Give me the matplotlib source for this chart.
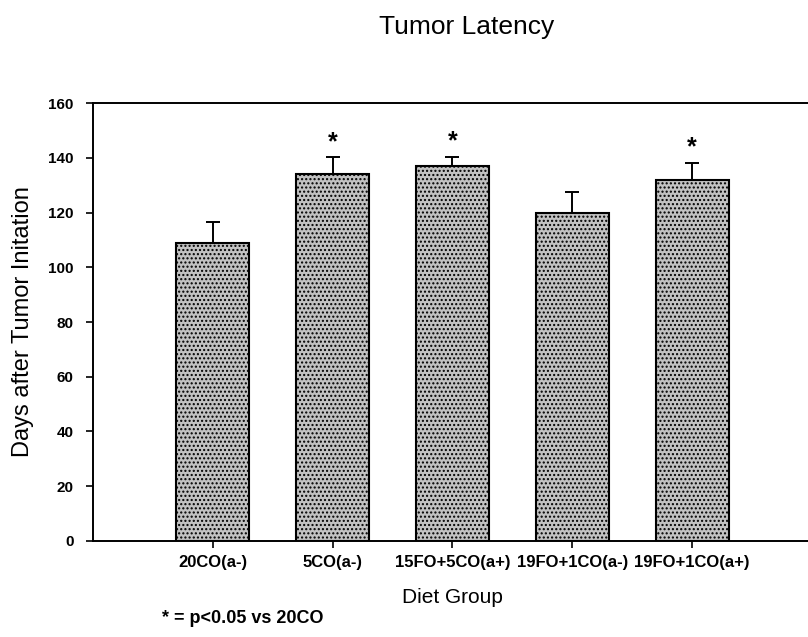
import matplotlib.pyplot as plt
import numpy as np

plt.rcParams["font.family"] = ["Liberation Sans", "DejaVu Sans"]

groups = ["20CO(a-)", "5CO(a-)", "15FO+5CO(a+)", "19FO+1CO(a-)", "19FO+1CO(a+)"]
latency_days = [109, 134, 137, 120, 132]
latency_err = [7.5, 6.3, 3.5, 7.7, 6.2]
significant = [False, True, True, False, True]

fig = plt.figure(figsize=(8.08, 6.37), dpi=100)
ax = fig.add_axes([0.115, 0.151, 0.89, 0.687])

x = np.arange(1, len(groups) + 1)
ax.bar(
    x, latency_days, width=0.61,
    color="#c2c2c2", edgecolor="black", linewidth=1.5,
    hatch="....", zorder=2,
)
ax.errorbar(
    x, latency_days, yerr=[np.zeros(len(x)), latency_err],
    fmt="none", ecolor="black", elinewidth=1.4, capsize=5, capthick=1.4, zorder=3,
)

# significance markers above the error bars
for xi, val, err, sig in zip(x, latency_days, latency_err, significant):
    if sig:
        ax.text(xi, val + err + 5.5, "*", ha="center", va="center",
                fontsize=18, fontweight="bold")

ax.set_xlim(0, 6)
ax.set_ylim(0, 160)
ax.set_yticks(range(0, 161, 20))
ax.set_xticks(x)
ax.set_xticklabels(groups, fontsize=12, fontweight="bold")
ax.tick_params(axis="y", labelsize=11, width=1.2, length=5, pad=9)
for lbl in ax.get_yticklabels():
    lbl.set_fontweight("bold")
ax.tick_params(axis="x", width=1.2, length=5, pad=5)

ax.spines["right"].set_visible(False)
for side in ["left", "top", "bottom"]:
    ax.spines[side].set_linewidth(1.4)

ax.set_ylabel("Days after Tumor Initation", fontsize=17, labelpad=10)
ax.set_xlabel("Diet Group", fontsize=15, labelpad=13)
fig.text(0.577, 0.958, "Tumor Latency", ha="center", va="center", fontsize=19)
fig.text(0.2, 0.015, "* = p<0.05 vs 20CO", ha="left", va="bottom",
         fontsize=13, fontweight="bold")

fig.savefig("out.png", dpi=100)
